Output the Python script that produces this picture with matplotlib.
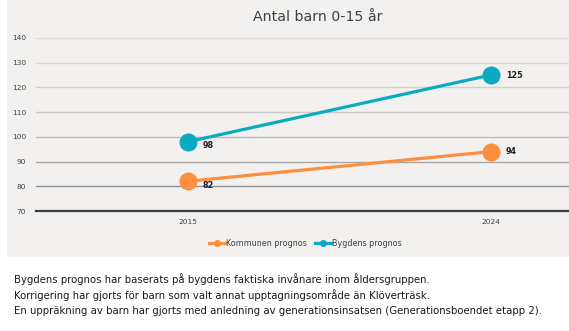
import matplotlib
matplotlib.use("Agg")
import matplotlib.pyplot as plt
from matplotlib.patches import Rectangle
from matplotlib.lines import Line2D

years = ["2015", "2024"]
kommunen = [82, 94]
bygdens = [98, 125]
yticks = [70, 80, 90, 100, 110, 120, 130, 140]
title = "Antal barn 0-15 år"
notes = [
    "Bygdens prognos har baserats på bygdens faktiska invånare inom åldersgruppen.",
    "Korrigering har gjorts för barn som valt annat upptagningsområde än Klöverträsk.",
    "En uppräkning av barn har gjorts med anledning av generationsinsatsen (Generationsboendet etapp 2).",
]

ORANGE = "#fd8f3e"
TEAL = "#0aabc1"
TXT = "#404040"
FONT = ["DejaVu Sans"]

W, H = 569, 331
fig = plt.figure(figsize=(W / 100, H / 100), dpi=100, facecolor="white")

# grey chart panel
fig.patches.append(Rectangle((7 / W, (H - 257) / H), 1 - 7 / W, 257 / H,
                             transform=fig.transFigure, facecolor="#f2f1ef",
                             edgecolor="none", zorder=0))

ax = fig.add_axes([36 / W, (H - 211) / H, 606 / W, 173 / H])
ax.set_zorder(2)
ax.set_facecolor("none")
x = list(range(len(years)))
ax.set_xlim(-0.5, len(years) - 0.5)
ax.set_ylim(70, 140)

# gridlines, lighter toward the top
grid_cols = ["#3c3c3c", "#929292", "#a9a8a6", "#bcbab6", "#cac8c4", "#d3d1cd", "#dbd9d5", "#e0deda"]
for v, c in zip(yticks, grid_cols):
    ax.axhline(v, color=c, lw=1.6 if v == 70 else 1.0, zorder=1, clip_on=False)

ax.plot(x, kommunen, color=ORANGE, lw=2.3, marker="o", ms=12, zorder=3,
        solid_capstyle="round")
ax.plot(x, bygdens, color=TEAL, lw=2.3, marker="o", ms=12, zorder=3,
        solid_capstyle="round")

for xi, v in zip(x, kommunen):
    ax.annotate(str(v), (xi, v), xytext=(11, -3 if xi == 0 else 0),
                textcoords="offset points", fontsize=5.8, fontweight="semibold",
                color="#202020", va="center", family=FONT)
for xi, v in zip(x, bygdens):
    ax.annotate(str(v), (xi, v), xytext=(11, -3 if xi == 0 else 0),
                textcoords="offset points", fontsize=5.8, fontweight="semibold",
                color="#202020", va="center", family=FONT)

ax.set_yticks(yticks)
ax.set_yticklabels([str(v) for v in yticks], fontsize=5.3, color=TXT, family=FONT)
ax.set_xticks(x)
ax.set_xticklabels(years, fontsize=5.3, color=TXT, family=FONT)
ax.tick_params(axis="both", length=0)
ax.tick_params(axis="y", pad=7)
ax.tick_params(axis="x", pad=6)
for s in ax.spines.values():
    s.set_visible(False)

fig.text(318 / W, 1 - 17 / H, title, ha="center", va="center", fontsize=10.2,
         color=TXT, family=FONT)

handles = [
    Line2D([], [], color=ORANGE, lw=2.3, marker="o", ms=4),
    Line2D([], [], color=TEAL, lw=2.3, marker="o", ms=4),
]
leg = fig.legend(handles, ["Kommunen prognos", "Bygdens prognos"],
                 loc="center", bbox_to_anchor=(305 / W, 1 - 243 / H), ncol=2,
                 frameon=False, handlelength=2.0, handletextpad=0.1,
                 columnspacing=1.0, prop={"family": FONT, "size": 5.8})
for t in leg.get_texts():
    t.set_color(TXT)

for i, line in enumerate(notes):
    fig.text(14 / W, 1 - (279 + 16 * i) / H, line, ha="left", va="center",
             fontsize=7.3, color="#1a1a1a", family=FONT)

fig.savefig("out.png", dpi=100, facecolor="white")
